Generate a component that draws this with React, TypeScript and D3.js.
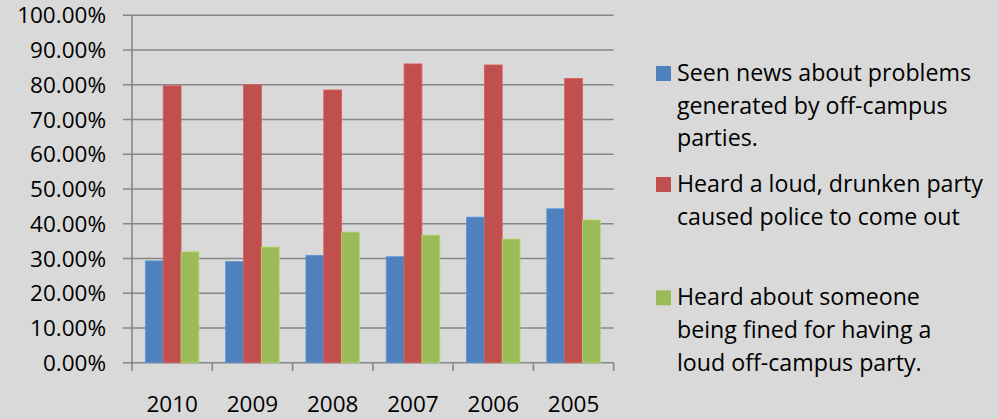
import React from "react";
import * as d3 from "d3";

const years = ["2010", "2009", "2008", "2007", "2006", "2005"];
const seriesNames = [
  "Seen news about problems generated by off-campus parties.",
  "Heard a loud, drunken party caused police to come out",
  "Heard about someone being fined for having a loud off-campus party.",
];
const seenNews = [29.3, 29.1, 30.9, 30.5, 41.9, 44.3];
const policeCalled = [79.7, 80.0, 78.5, 86.0, 85.7, 81.8];
const heardFined = [31.9, 33.3, 37.6, 36.7, 35.6, 41.1];
const yTicks = [0, 10, 20, 30, 40, 50, 60, 70, 80, 90, 100];
const legendLines = [
  ["Seen news about problems", "generated by off-campus", "parties."],
  ["Heard a loud, drunken party", "caused police to come out"],
  ["Heard about someone", "being fined for having a", "loud off-campus party."],
];

const colors = ["#4F81BD", "#C0504D", "#9BBB59"];
const W = 998;
const H = 419;
const FONT = "'Open Sans', Lato, sans-serif";

export default function App() {
  const plotLeft = 132;
  const plotRight = 613.7;
  const plotTop = 15.3;
  const plotBottom = 362.7;

  const x = d3.scaleBand<string>().domain(years).range([plotLeft, plotRight]).padding(0);
  const bw = x.bandwidth();
  const gap = (bw / 4.5) * 1.5;
  const xs = d3
    .scaleBand<number>()
    .domain([0, 1, 2])
    .range([gap / 2, bw - gap / 2])
    .padding(0);
  const y = d3.scaleLinear().domain([0, 100]).range([plotBottom, plotTop]);

  const series = [seenNews, policeCalled, heardFined];
  const grid = "#878787";

  const legendY = [80.7, 191.7, 305];
  const lineH = 32.8;

  return (
    <svg
      width={W}
      height={H}
      style={{ position: "absolute", left: 0, top: 0, display: "block" }}
      fontFamily={FONT}
    >
      <rect x={0} y={0} width={W} height={H} fill="#D9D9D9" />
      {yTicks.map((t) => (
        <g key={t}>
          <line x1={123} x2={plotRight} y1={y(t)} y2={y(t)} stroke={grid} strokeWidth={1.6} />
          <text
            x={106}
            y={y(t)}
            dy="0.36em"
            textAnchor="end"
            fontSize={22.5}
            fill="#000"
          >
            {t.toFixed(2)}%
          </text>
        </g>
      ))}
      <line x1={plotLeft} x2={plotLeft} y1={plotTop} y2={371} stroke={grid} strokeWidth={1.6} />
      {years.map((yr) => (
        <line
          key={"t" + yr}
          x1={(x(yr) as number) + bw}
          x2={(x(yr) as number) + bw}
          y1={plotBottom}
          y2={371}
          stroke={grid}
          strokeWidth={1.6}
        />
      ))}
      {years.map((yr, i) => (
        <g key={yr} transform={`translate(${x(yr)},0)`}>
          {series.map((vals, s) => (
            <rect
              key={s}
              x={xs(s) as number}
              y={y(vals[i])}
              width={xs.bandwidth()}
              height={plotBottom - y(vals[i])}
              fill={colors[s]}
              stroke={d3.color(colors[s])!.brighter(0.4).formatHex()}
              strokeWidth={0.8}
            />
          ))}
          <text x={bw / 2} y={411.7} textAnchor="middle" fontSize={22.5} fill="#000">
            {yr}
          </text>
        </g>
      ))}
      {legendLines.map((lines, s) => (
        <g key={seriesNames[s]}>
          <rect x={656} y={legendY[s] - 14.7} width={15} height={15} fill={colors[s]} />
          <text fontSize={23.2} fill="#000">
            {lines.map((ln, k) => (
              <tspan key={k} x={677} y={legendY[s] + k * lineH}>
                {ln}
              </tspan>
            ))}
          </text>
        </g>
      ))}
    </svg>
  );
}
